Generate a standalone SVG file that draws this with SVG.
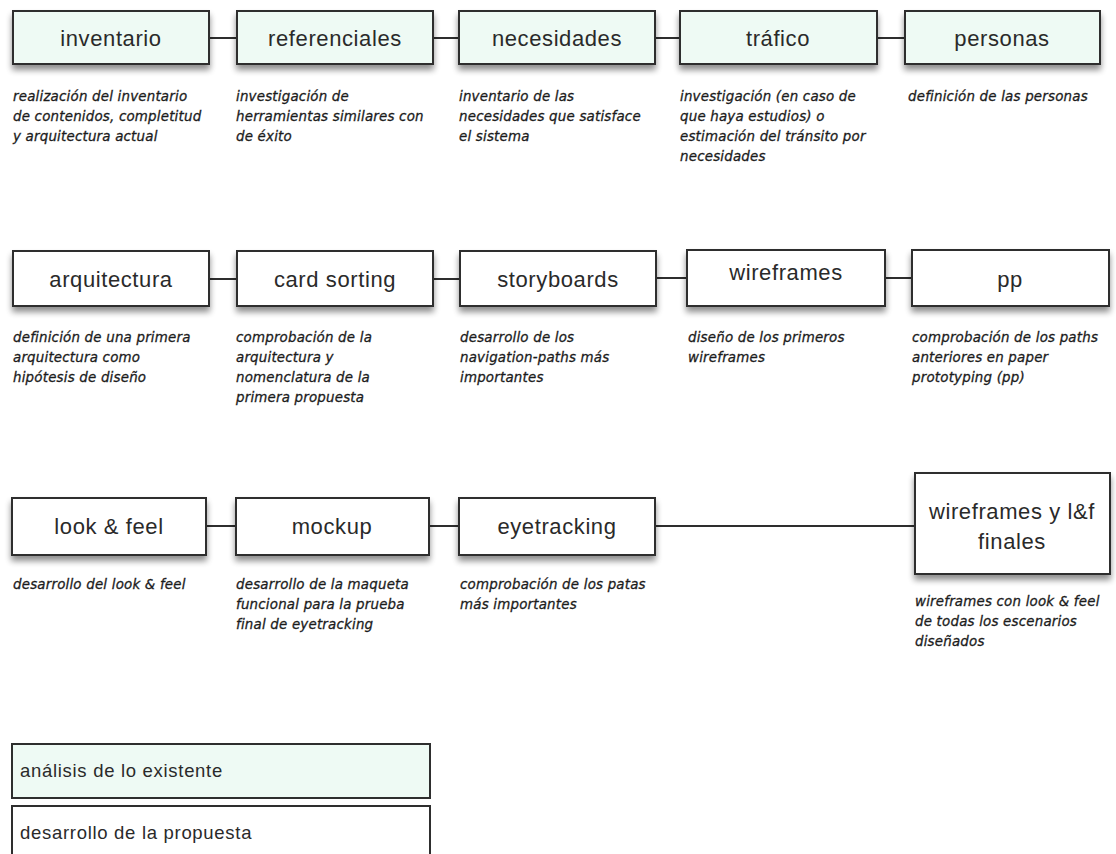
<svg xmlns="http://www.w3.org/2000/svg" width="1116" height="854" viewBox="0 0 1116 854">
  <style>
    .box { stroke: #2e2e2e; stroke-width: 2; }
    .mint { fill: #eefaf4; }
    .plain { fill: #ffffff; }
    .lbl { font-family: "Liberation Sans", Arial, sans-serif; font-size: 22px; fill: #2a2a2a; text-anchor: middle; letter-spacing: 0.6px; }
    .desc { font-family: "DejaVu Sans", Verdana, sans-serif; font-style: italic; font-size: 13.4px; fill: #1c1c1c; stroke: #1c1c1c; stroke-width: 0.3px; letter-spacing: 0.2px; }
    .leg { font-family: "Liberation Sans", Arial, sans-serif; font-size: 18.5px; fill: #2a2a2a; letter-spacing: 0.7px; }
    .conn { stroke: #2e2e2e; stroke-width: 2; fill: none; }
  </style>
  <defs>
    <filter id="shadow" x="-10%" y="-20%" width="120%" height="160%">
      <feGaussianBlur in="SourceAlpha" stdDeviation="3"/>
      <feOffset dx="0" dy="5" result="b"/>
      <feComponentTransfer><feFuncA type="linear" slope="0.45"/></feComponentTransfer>
      <feMerge><feMergeNode/><feMergeNode in="SourceGraphic"/></feMerge>
    </filter>
  </defs>
  <rect width="1116" height="854" fill="#ffffff"/>

  <!-- connectors -->
  <g id="connectors">
    <line class="conn" x1="209" y1="38" x2="237" y2="38"/>
    <line class="conn" x1="433" y1="38" x2="459" y2="38"/>
    <line class="conn" x1="655" y1="38" x2="680" y2="38"/>
    <line class="conn" x1="877" y1="38" x2="905" y2="38"/>
    <line class="conn" x1="209" y1="279" x2="237" y2="279"/>
    <line class="conn" x1="433" y1="279" x2="460" y2="279"/>
    <line class="conn" x1="656" y1="278" x2="687" y2="278"/>
    <line class="conn" x1="885" y1="278" x2="912" y2="278"/>
    <line class="conn" x1="206" y1="526" x2="236" y2="526"/>
    <line class="conn" x1="429" y1="526" x2="459" y2="526"/>
    <line class="conn" x1="655" y1="526" x2="915" y2="526"/>
  </g>

  <!-- row 1: análisis de lo existente -->
  <g id="inventario">
    <rect class="box mint" x="13" y="11" width="196" height="53" filter="url(#shadow)"/>
    <text class="lbl" x="111" y="46">inventario</text>
    <text class="desc" x="13" y="101">realización del inventario</text>
    <text class="desc" x="13" y="121">de contenidos, completitud</text>
    <text class="desc" x="13" y="141">y arquitectura actual</text>
  </g>
  <g id="referenciales">
    <rect class="box mint" x="237" y="11" width="196" height="53" filter="url(#shadow)"/>
    <text class="lbl" x="335" y="46">referenciales</text>
    <text class="desc" x="236" y="101">investigación de</text>
    <text class="desc" x="236" y="121">herramientas similares con</text>
    <text class="desc" x="236" y="141">de éxito</text>
  </g>
  <g id="necesidades">
    <rect class="box mint" x="459" y="11" width="196" height="53" filter="url(#shadow)"/>
    <text class="lbl" x="557" y="46">necesidades</text>
    <text class="desc" x="459" y="101">inventario de las</text>
    <text class="desc" x="459" y="121">necesidades que satisface</text>
    <text class="desc" x="459" y="141">el sistema</text>
  </g>
  <g id="trafico">
    <rect class="box mint" x="680" y="11" width="197" height="53" filter="url(#shadow)"/>
    <text class="lbl" x="778" y="46">tráfico</text>
    <text class="desc" x="680" y="101">investigación (en caso de</text>
    <text class="desc" x="680" y="121">que haya estudios) o</text>
    <text class="desc" x="680" y="141">estimación del tránsito por</text>
    <text class="desc" x="680" y="161">necesidades</text>
  </g>
  <g id="personas">
    <rect class="box mint" x="905" y="11" width="195" height="53" filter="url(#shadow)"/>
    <text class="lbl" x="1002" y="46">personas</text>
    <text class="desc" x="908" y="101">definición de las personas</text>
  </g>

  <!-- row 2: desarrollo de la propuesta -->
  <g id="arquitectura">
    <rect class="box plain" x="13" y="251" width="196" height="55" filter="url(#shadow)"/>
    <text class="lbl" x="111" y="287">arquitectura</text>
    <text class="desc" x="13" y="342">definición de una primera</text>
    <text class="desc" x="13" y="362">arquitectura como</text>
    <text class="desc" x="13" y="382">hipótesis de diseño</text>
  </g>
  <g id="card-sorting">
    <rect class="box plain" x="237" y="251" width="196" height="55" filter="url(#shadow)"/>
    <text class="lbl" x="335" y="287">card sorting</text>
    <text class="desc" x="236" y="342">comprobación de la</text>
    <text class="desc" x="236" y="362">arquitectura y</text>
    <text class="desc" x="236" y="382">nomenclatura de la</text>
    <text class="desc" x="236" y="402">primera propuesta</text>
  </g>
  <g id="storyboards">
    <rect class="box plain" x="460" y="251" width="196" height="55" filter="url(#shadow)"/>
    <text class="lbl" x="558" y="287">storyboards</text>
    <text class="desc" x="460" y="342">desarrollo de los</text>
    <text class="desc" x="460" y="362">navigation-paths más</text>
    <text class="desc" x="460" y="382">importantes</text>
  </g>
  <g id="wireframes">
    <rect class="box plain" x="687" y="250" width="198" height="56" filter="url(#shadow)"/>
    <text class="lbl" x="786" y="280">wireframes</text>
    <text class="desc" x="688" y="342">diseño de los primeros</text>
    <text class="desc" x="688" y="362">wireframes</text>
  </g>
  <g id="pp">
    <rect class="box plain" x="912" y="250" width="197" height="56" filter="url(#shadow)"/>
    <text class="lbl" x="1010" y="287">pp</text>
    <text class="desc" x="912" y="342">comprobación de los paths</text>
    <text class="desc" x="912" y="362">anteriores en paper</text>
    <text class="desc" x="912" y="382">prototyping (pp)</text>
  </g>

  <!-- row 3 -->
  <g id="look-and-feel">
    <rect class="box plain" x="12" y="498" width="194" height="57" filter="url(#shadow)"/>
    <text class="lbl" x="109" y="534">look &amp; feel</text>
    <text class="desc" x="13" y="589">desarrollo del look &amp; feel</text>
  </g>
  <g id="mockup">
    <rect class="box plain" x="236" y="498" width="193" height="57" filter="url(#shadow)"/>
    <text class="lbl" x="332" y="534">mockup</text>
    <text class="desc" x="236" y="589">desarrollo de la maqueta</text>
    <text class="desc" x="236" y="609">funcional para la prueba</text>
    <text class="desc" x="236" y="629">final de eyetracking</text>
  </g>
  <g id="eyetracking">
    <rect class="box plain" x="459" y="498" width="196" height="57" filter="url(#shadow)"/>
    <text class="lbl" x="557" y="534">eyetracking</text>
    <text class="desc" x="460" y="589">comprobación de los patas</text>
    <text class="desc" x="460" y="609">más importantes</text>
  </g>
  <g id="wireframes-finales">
    <rect class="box plain" x="915" y="473" width="195" height="101" filter="url(#shadow)"/>
    <text class="lbl" x="1012" y="519">wireframes y l&amp;f</text>
    <text class="lbl" x="1012" y="549">finales</text>
    <text class="desc" x="915" y="606">wireframes con look &amp; feel</text>
    <text class="desc" x="915" y="626">de todas los escenarios</text>
    <text class="desc" x="915" y="646">diseñados</text>
  </g>

  <!-- legend -->
  <g id="legend-analisis">
    <rect class="box mint" x="12" y="744" width="418" height="54"/>
    <text class="leg" x="20" y="777">análisis de lo existente</text>
  </g>
  <g id="legend-desarrollo">
    <rect class="box plain" x="12" y="806" width="418" height="60"/>
    <text class="leg" x="20" y="839">desarrollo de la propuesta</text>
  </g>
</svg>
